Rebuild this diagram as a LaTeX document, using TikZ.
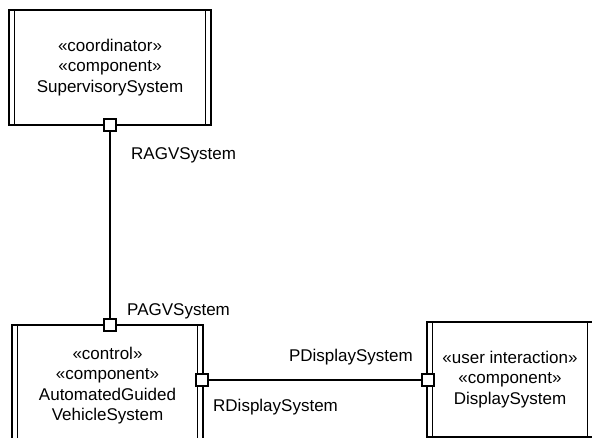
\documentclass[tikz,border=0pt]{standalone}
\usepackage{fontspec}
\setmainfont{Liberation Sans}
\usetikzlibrary{positioning}

\begin{document}
\begin{tikzpicture}[
  x=1pt, y=-1pt,
  comp/.style={rectangle, draw, line width=1.5pt, fill=white, inner sep=0pt,
               align=center, font=\fontsize{17}{20.5}\selectfont,
               path picture={
                 \draw[line width=1.5pt]
                   ([xshift=5.5pt]path picture bounding box.north west) --
                   ([xshift=5.5pt]path picture bounding box.south west)
                   ([xshift=-5.5pt]path picture bounding box.north east) --
                   ([xshift=-5.5pt]path picture bounding box.south east);}},
  port/.style={rectangle, draw, line width=1.5pt, fill=white,
               minimum size=12pt, inner sep=0pt},
  lbl/.style={font=\fontsize{17}{20}\selectfont, inner sep=0pt},
  conn/.style={line width=1.5pt},
]
  \clip (0,0) rectangle (592,438);

  % Components
  \node[comp, minimum width=202pt, minimum height=115pt] (sup) at (110,67.5)
    {«coordinator»\\«component»\\SupervisorySystem};
  \node[comp, minimum width=191pt, minimum height=121pt] (agv) at (107.5,385.5)
    {«control»\\«component»\\AutomatedGuided\\VehicleSystem};
  \node[comp, minimum width=166pt, minimum height=115pt] (disp) at (510,379.5)
    {«user interaction»\\«component»\\DisplaySystem};

  % Ports
  \node[port] (ragv) at (110,125) {};
  \node[port] (pagv) at (110,325) {};
  \node[port] (rdisp) at (202,380) {};
  \node[port] (pdisp) at (428,380) {};

  % Connectors
  \draw[conn] (ragv) -- (pagv);
  \draw[conn] (rdisp) -- (pdisp);

  % Port labels
  \node[lbl, anchor=west] (lragv) at (131,155) {RAGVSystem};
  \node[lbl, anchor=west] (lpagv) at (127,311) {PAGVSystem};
  \node[lbl, anchor=east] (lpdisp) at (413,357) {PDisplaySystem};
  \node[lbl, anchor=west] (lrdisp) at (213,407) {RDisplaySystem};
\end{tikzpicture}
\end{document}
